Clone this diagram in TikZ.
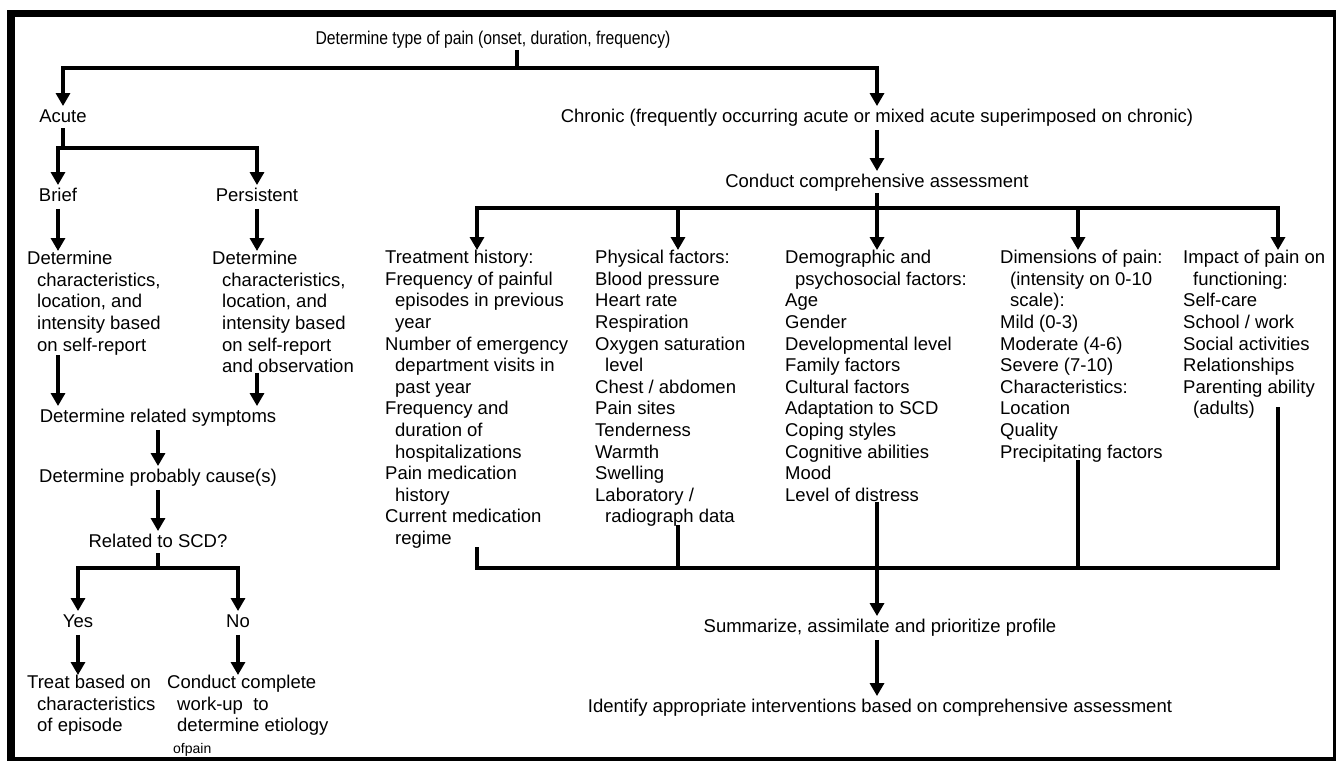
\documentclass[tikz,border=0pt]{standalone}
\usepackage{fontspec}
\usepackage{graphicx}
\setmainfont{Liberation Sans}
\usetikzlibrary{arrows.meta}
\newcommand{\ind}{\hspace*{10pt}}

\begin{document}
\begin{tikzpicture}[x=1pt, y=-1pt,
  txt/.style={inner sep=3pt, font=\fontsize{18.5}{21.6}\selectfont, text height=13.5pt, text depth=4pt},
  block/.style={anchor=north west, inner sep=0pt, align=left, font=\fontsize{18.5}{21.6}\selectfont},
  line/.style={line width=3.2pt, line cap=rect},
  arr/.style={line width=3.2pt, -{Triangle[length=13pt, width=14pt]}}]
  \useasboundingbox (0,0) rectangle (1336,761);
  \fill [black] (7,10) rectangle (1336,761);
  \fill [white] (15,17) rectangle (1333,757);

  \node [txt] (title) at (493,40) {\scalebox{0.85}[1]{Determine type of pain (onset, duration, frequency)}};
  \node [txt] (acute) at (63,118) {Acute};
  \node [txt] (chronic) at (877,118) {Chronic (frequently occurring acute or mixed acute superimposed on chronic)};
  \node [txt] (brief) at (58,197) {Brief};
  \node [txt] (persist) at (257,197) {Persistent};
  \node [block] (bdet) at (27,251) {Determine\\ \ind characteristics,\\ \ind location, and\\ \ind intensity based\\ \ind on self-report};
  \node [block] (pdet) at (212,251) {Determine\\ \ind characteristics,\\ \ind location, and\\ \ind intensity based\\ \ind on self-report\\ \ind and observation};
  \node [txt] (symp) at (158,418) {Determine related symptoms};
  \node [txt] (cause) at (158,478) {Determine probably cause(s)};
  \node [txt] (scd) at (158,543) {Related to SCD?};
  \node [txt] (yes) at (78,623) {Yes};
  \node [txt] (no) at (238,623) {No};
  \node [block] (treat) at (27,675) {Treat based on\\ \ind characteristics\\ \ind of episode};
  \node [block] (workup) at (167,675) {Conduct complete\\ \ind work-up\ \ to\\ \ind determine etiology\\ \hspace*{6pt}{\fontsize{14}{15}\selectfont ofpain}};

  \node [txt] (conduct) at (877,183) {Conduct comprehensive assessment};
  \node [block] (hist) at (385,250) {Treatment history:\\ Frequency of painful\\ \ind episodes in previous\\ \ind year\\ Number of emergency\\ \ind department visits in\\ \ind past year\\ Frequency and\\ \ind duration of\\ \ind hospitalizations\\ Pain medication\\ \ind history\\ Current medication\\ \ind regime};
  \node [block] (phys) at (595,250) {Physical factors:\\ Blood pressure\\ Heart rate\\ Respiration\\ Oxygen saturation\\ \ind level\\ Chest / abdomen\\ Pain sites\\ Tenderness\\ Warmth\\ Swelling\\ Laboratory /\\ \ind radiograph data};
  \node [block] (demo) at (785,250) {Demographic and\\ \ind psychosocial factors:\\ Age\\ Gender\\ Developmental level\\ Family factors\\ Cultural factors\\ Adaptation to SCD\\ Coping styles\\ Cognitive abilities\\ Mood\\ Level of distress};
  \node [block] (dims) at (1000,250) {Dimensions of pain:\\ \ind (intensity on 0-10\\ \ind scale):\\ Mild (0-3)\\ Moderate (4-6)\\ Severe (7-10)\\ Characteristics:\\ Location\\ Quality\\ Precipitating factors};
  \node [block] (impact) at (1183,250) {Impact of pain on\\ \ind functioning:\\ Self-care\\ School / work\\ Social activities\\ Relationships\\ Parenting ability\\ \ind (adults)};
  \node [txt] (summ) at (880,628) {Summarize, assimilate and prioritize profile};
  \node [txt] (ident) at (880,708) {Identify appropriate interventions based on comprehensive assessment};

  \coordinate (tsplit) at (517,68);
  \coordinate (asplit) at (63,148);
  \coordinate (ssplit) at (158,568);
  \coordinate (csplit) at (877,208);
  \coordinate (merge) at (877,568);
  \coordinate (d1) at (477,208);
  \coordinate (d2) at (678,208);
  \coordinate (d3) at (877,208);
  \coordinate (d4) at (1078,208);
  \coordinate (d5) at (1278,208);

  \draw [line] (title.south -| tsplit) -- (tsplit);
  \draw [arr] (tsplit) -| (acute);
  \draw [arr] (tsplit) -| (chronic);
  \draw [line] (acute) -- (asplit);
  \draw [arr] (asplit) -| (brief);
  \draw [arr] (asplit) -| (persist);
  \draw [arr] (brief) -- (brief |- bdet.north);
  \draw [arr] (persist) -- (persist |- pdet.north);
  \draw [arr] (brief |- bdet.south) -- (brief |- symp.north);
  \draw [arr] (persist |- pdet.south) -- (persist |- symp.north);
  \draw [arr] (symp) -- (cause);
  \draw [arr] (cause) -- (scd);
  \draw [line] (scd) -- (ssplit);
  \draw [arr] (ssplit) -| (yes);
  \draw [arr] (ssplit) -| (no);
  \draw [arr] (yes) -- (yes |- treat.north);
  \draw [arr] (no) -- (no |- workup.north);

  \draw [arr] (chronic) -- (conduct);
  \draw [line] (conduct) -- (csplit);
  \draw [line] (d1) -- (d5);
  \draw [arr] (d1) -- (d1 |- hist.north);
  \draw [arr] (d2) -- (d2 |- phys.north);
  \draw [arr] (d3) -- (d3 |- demo.north);
  \draw [arr] (d4) -- (d4 |- dims.north);
  \draw [arr] (d5) -- (d5 |- impact.north);
  \draw [line] (d1 |- hist.south) -- (d1 |- merge);
  \draw [line] (d2 |- phys.south) -- (d2 |- merge);
  \draw [line] (d4 |- dims.south) -- (d4 |- merge);
  \draw [line] ([yshift=10pt]d5 |- impact.south) -- (d5 |- merge);
  \draw [line] (d1 |- merge) -- (d5 |- merge);
  \draw [arr] (d3 |- demo.south) -- (d3 |- summ.north);
  \draw [arr] (d3 |- summ.south) -- (d3 |- ident.north);
\end{tikzpicture}
\end{document}
